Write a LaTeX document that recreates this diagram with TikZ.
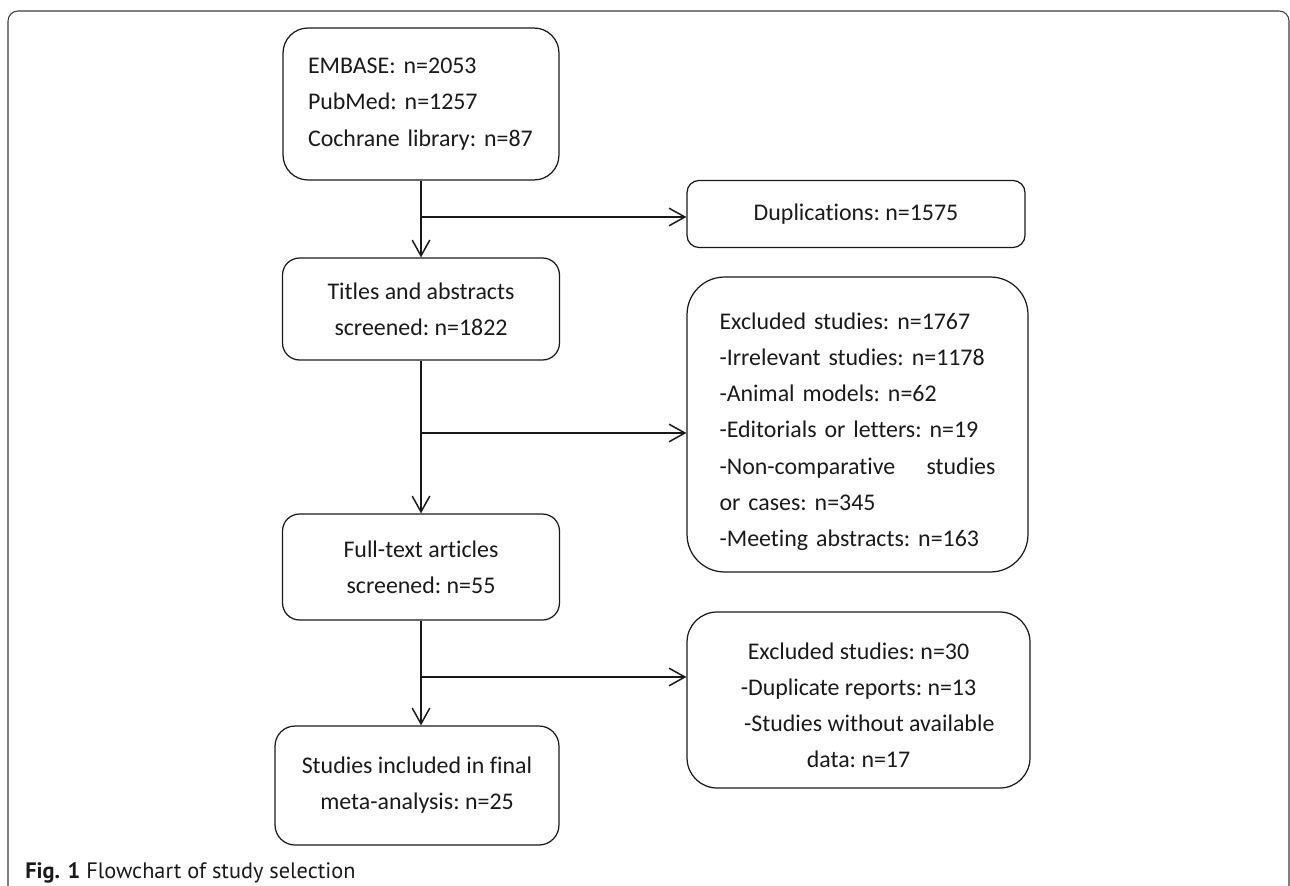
\documentclass[tikz,border=0pt]{standalone}
\usepackage{fontspec}
\setmainfont{Carlito}[Ligatures=NoCommon]
\newfontfamily\capfont{PT Sans}
\usetikzlibrary{arrows.meta,positioning}
\definecolor{lineblack}{RGB}{26,26,26}

\begin{document}
\begin{tikzpicture}[x=0.02cm, y=-0.02cm]
    \tikzset{flowbox/.style={rectangle, draw=lineblack, line width=0.7pt, align=center,
      text=lineblack, font=\fontsize{13.6pt}{20.6pt}\selectfont\frenchspacing, inner sep=0pt}}
    \tikzset{flowarr/.style={-{Straight Barb[length=9pt, width=10pt]}, draw=lineblack,
      line width=0.85pt}}

    \useasboundingbox (0,0) rectangle (1290,885);
    \clip (0,0) rectangle (1290,885);

    % outer frame
    \draw[lineblack!85, line width=0.6pt, rounded corners=0.2cm] (8,11) rectangle (1289,940);

    % left column
    \node[flowbox, text width=4.52cm, inner xsep=0.5cm, align=left, minimum height=3.04cm,
      rounded corners=0.5cm] (sources) at (421,104)
      {EMBASE:~n=2053\\PubMed:~n=1257\\Cochrane~library:~n=87};
    \node[flowbox, minimum width=5.54cm, minimum height=2.04cm, rounded corners=0.34cm]
      (titles) at (421,309) {Titles and abstracts\\screened: n=1822};
    \node[flowbox, minimum width=5.54cm, minimum height=2.12cm, rounded corners=0.34cm]
      (fulltext) at (421,567) {Full-text articles\\screened: n=55};
    \node[flowbox, minimum width=5.68cm, minimum height=2.38cm, rounded corners=0.4cm]
      (included) at (417,785.5) {Studies included in final\\meta-analysis: n=25};

    % right column
    \node[flowbox, minimum width=6.76cm, minimum height=1.34cm, rounded corners=0.24cm]
      (dupl) at (856,214) {Duplications: n=1575};
    \node[flowbox, text width=5.52cm, inner xsep=0.65cm, align=left, minimum height=5.9cm,
      rounded corners=0.75cm] (excl1) at (857.5,424.5)
      {\rule{0pt}{17.6pt}Excluded studies: n=1767\\-Irrelevant studies: n=1178\\
       -Animal models: n=62\\-Editorials or letters: n=19\\-Non-comparative\hfill studies\\
       or cases: n=345\\-Meeting abstracts: n=163};
    \node[flowbox, minimum width=6.86cm, minimum height=3.52cm, rounded corners=0.6cm]
      (excl2) at (858.5,700)
      {\rule{0pt}{15.3pt}Excluded studies: n=30\\-Duplicate reports: n=13\\
       \hspace*{0.9em}-Studies without available\\data: n=17};

    % arrows
    \coordinate (split1) at (421,217);
    \coordinate (split2) at (421,433);
    \coordinate (split3) at (421,677);
    \draw[flowarr] (sources.south) -- (titles.north);
    \draw[flowarr] (split1) -- (split1 -| dupl.west);
    \draw[flowarr] (titles.south) -- (fulltext.north);
    \draw[flowarr] (split2) -- (split2 -| excl1.west);
    \draw[flowarr] (fulltext.south) -- (fulltext.south |- included.north);
    \draw[flowarr] (split3) -- (split3 -| excl2.west);

    % caption
    \node[anchor=base west, inner sep=0pt, text=lineblack,
      font=\capfont\fontsize{12.7pt}{14pt}\selectfont] (caption) at (25,878)
      {\textbf{Fig. 1} Flowchart of study selection};
\end{tikzpicture}
\end{document}
